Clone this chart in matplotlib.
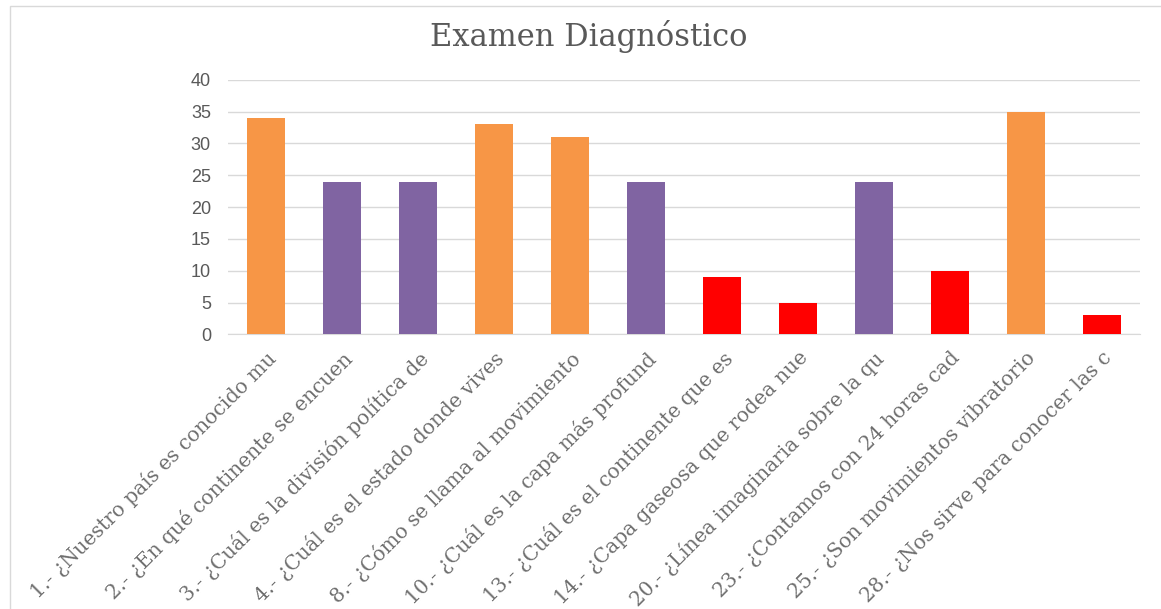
import matplotlib.pyplot as plt
from matplotlib.patches import Rectangle

etiquetas = [
    "1.- ¿Nuestro país es conocido mu",
    "2.- ¿En qué continente se encuen",
    "3.- ¿Cuál es la división política de",
    "4.- ¿Cuál es el estado donde vives",
    "8.- ¿Cómo se llama al movimiento",
    "10.- ¿Cuál es la capa más profund",
    "13.- ¿Cuál es el continente que es",
    "14.- ¿Capa gaseosa que rodea nue",
    "20.- ¿Línea imaginaria sobre la qu",
    "23.- ¿Contamos con 24 horas cad",
    "25.- ¿Son movimientos vibratorio",
    "28.- ¿Nos sirve para conocer las c",
]
valores = [34, 24, 24, 33, 31, 24, 9, 5, 24, 10, 35, 3]
colores = ["#F79646", "#8064A2", "#8064A2", "#F79646", "#F79646", "#8064A2",
           "#FF0000", "#FF0000", "#8064A2", "#FF0000", "#F79646", "#FF0000"]

fig = plt.figure(figsize=(11.61, 6.09), dpi=100)
fig.patches.append(Rectangle((0.009, -0.01), 0.995, 1.0, transform=fig.transFigure,
                             fill=False, edgecolor="#D9D9D9", linewidth=1))
ax = fig.add_axes([0.196, 0.451, 0.786, 0.418])

x = range(len(valores))
ax.bar(x, valores, width=0.5, color=colores, zorder=3)
ax.set_ylim(0, 40)
ax.set_xlim(-0.5, len(valores) - 0.5)
ax.set_yticks(range(0, 41, 5))
ax.yaxis.grid(True, color="#D9D9D9", linewidth=1, zorder=0)
for s in ax.spines.values():
    s.set_visible(False)
ax.spines["bottom"].set_visible(True)
ax.spines["bottom"].set_color("#D9D9D9")
ax.tick_params(axis="both", length=0, colors="#595959")
ax.tick_params(axis="y", labelsize=13, pad=12)
for t in ax.get_yticklabels():
    t.set_family("Liberation Sans")

ax.set_xticks(list(x))
ax.set_xticklabels(etiquetas, rotation=45, ha="right", rotation_mode="anchor",
                   family="DejaVu Serif", fontsize=14.5, color="#6E6E6E")
ax.tick_params(axis="x", pad=10)

fig.text(0.507, 0.94, "Examen Diagnóstico", ha="center", va="center",
         family="DejaVu Serif", fontsize=22, color="#595959")

fig.savefig("out.png", dpi=100)
